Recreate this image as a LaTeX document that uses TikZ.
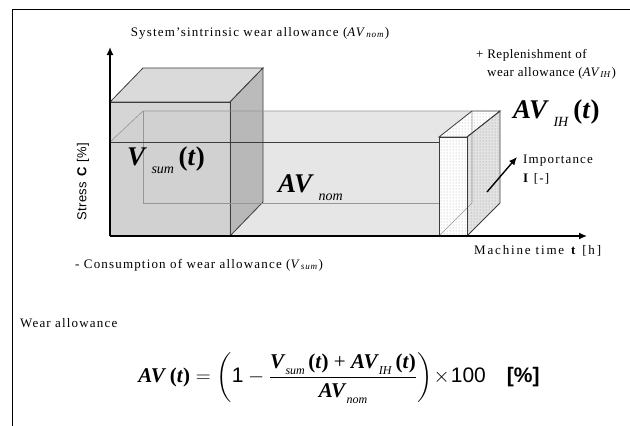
\documentclass[tikz,border=0pt]{standalone}
\usepackage{fontspec}
\setmainfont{Liberation Serif}
\setsansfont{Liberation Sans}
\usepackage{amsmath}
\usetikzlibrary{patterns,arrows.meta}
\definecolor{bigfront}{RGB}{206,206,206}
\definecolor{bigtop}{RGB}{216,216,216}
\definecolor{bigside}{RGB}{180,180,180}
\definecolor{longface}{RGB}{230,230,230}
\definecolor{edgegray}{RGB}{60,60,60}
\definecolor{hidgray}{RGB}{150,150,150}
\newcommand{\bi}[1]{\textbf{\textit{#1}}}
\newcommand{\lowsub}[3]{\raisebox{-#1}{\fontsize{#2}{#2}\selectfont\textit{#3}}}
\tikzset{
  lbl/.style={font=\fontsize{13}{15}\selectfont\addfontfeature{LetterSpace=9}, inner sep=0pt},
  lbltight/.style={font=\fontsize{13}{15}\selectfont\addfontfeature{LetterSpace=4}, inner sep=0pt},
  lblwide/.style={font=\fontsize{13}{15}\selectfont\addfontfeature{LetterSpace=14}, inner sep=0pt},
  bigtxt/.style={font=\fontsize{27}{30}\selectfont, inner sep=0pt},
  axisarrow/.style={line width=1.4pt, -{Latex[length=8pt,width=7pt]}},
  boxedge/.style={draw=edgegray, line width=0.8pt},
  hidden/.style={draw=hidgray, line width=0.6pt},
  frameline/.style={line width=0.9pt},
}
\begin{document}
\begin{tikzpicture}[x=1pt,y=-1pt]
\useasboundingbox (0,0) rectangle (630,426);
% frame
\coordinate (fb) at (12,426);
\coordinate (fc) at (12,9);
\coordinate (fr) at (630,9);
\draw[frameline] (fb) -- (fc) -- (fr);

% long box (AV_nom)
\coordinate (L1) at (110,142); \coordinate (L2) at (440,142);
\coordinate (L3) at (440,236); \coordinate (L4) at (110,236);
\coordinate (L5) at (143,111); \coordinate (L6) at (472,111);
\coordinate (L7) at (143,203); \coordinate (L8) at (472,203);
\fill[longface] (L1) -- (L5) -- (L6) -- (L2) -- cycle;
\fill[longface] (L1) rectangle (L3);

% big box (V_sum)
\coordinate (B1) at (110,102); \coordinate (B2) at (230,102);
\coordinate (B3) at (230,236); \coordinate (B4) at (110,236);
\coordinate (B5) at (143,68);  \coordinate (B6) at (263,68);
\coordinate (B7) at (263,202);
\filldraw[boxedge, fill=bigtop, fill opacity=0.95] (B1) -- (B5) -- (B6) -- (B2) -- cycle;
\filldraw[boxedge, fill=bigside, fill opacity=0.9] (B2) -- (B6) -- (B7) -- (B3) -- cycle;
\filldraw[boxedge, fill=bigfront, fill opacity=0.85] (B1) rectangle (B3);

% long box edges seen through
\draw[hidden] (L1) -- (L5) -- (L6);
\draw[hidden] (L5) -- (L7) -- (L8);
\draw[boxedge] (L1) -- (L2);
\draw[boxedge] (L4) -- (L3);

% IH box
\coordinate (H1) at (439,137); \coordinate (H2) at (467,137);
\coordinate (H3) at (467,236); \coordinate (H4) at (439,236);
\coordinate (H5) at (472,111); \coordinate (H6) at (500,111);
\coordinate (H7) at (500,203); \coordinate (H8) at (472,203);
\fill[white] (H1) -- (H5) -- (H6) -- (H2) -- cycle;
\fill[pattern=dots, pattern color=gray!70] (H1) -- (H5) -- (H6) -- (H2) -- cycle;
\fill[gray!22] (H2) -- (H6) -- (H7) -- (H3) -- cycle;
\fill[pattern=dots, pattern color=gray!80] (H2) -- (H6) -- (H7) -- (H3) -- cycle;
\fill[white] (H1) rectangle (H3);
\fill[pattern=dots, pattern color=gray!70] (H1) rectangle (H3);
\draw[hidden] (H5) -- (H8) -- (H4);
\draw[boxedge] (H1) -- (H5) -- (H6) -- (H2) -- cycle;
\draw[boxedge] (H2) -- (H6) -- (H7) -- (H3);
\draw[boxedge] (H1) rectangle (H3);

% axes
\coordinate (O) at (110,236);
\coordinate (ytip) at (110,47);
\coordinate (xtip) at (587,236);
\coordinate (istart) at (487,192);
\coordinate (itip) at (517,157);
\draw[axisarrow] (O) -- (ytip);
\draw[axisarrow] (O) -- (xtip);
\draw[axisarrow] (istart) -- (itip);

% labels
\node[lbl] (title) at (260,33) {System’sintrinsic wear allowance (\textit{AV}\textsubscript{\textit{nom}})};
\node[lbltight, anchor=west] (rep1) at (476,55) {+ Replenishment of};
\node[lbltight, anchor=west] (rep2) at (487,73) {wear allowance (\textit{AV}\textsubscript{\textit{IH}})};
\node[bigtxt, anchor=base west] (avih) at (513,118) {\bi{AV}\,\lowsub{8pt}{14}{IH}\,\textbf{(}\bi{t}\textbf{)}};
\node[bigtxt, anchor=base west] (vsum) at (127,165) {\bi{V}\,\lowsub{8pt}{14}{sum}\,\textbf{(}\bi{t}\textbf{)}};
\node[bigtxt, anchor=base west] (avnom) at (278,192) {\bi{AV}\,\lowsub{8pt}{14}{nom}};
\node[lbl, anchor=west] (imp1) at (523,161) {Importance};
\node[lbl, anchor=west] (imp2) at (523,179) {\textbf{I} [-]};
\node[font=\sffamily\fontsize{13}{15}\selectfont\addfontfeature{LetterSpace=4}, inner sep=0pt, rotate=90] (stress) at (83,182) {Stress \textbf{C} [\%]};
\node[lblwide, anchor=west] (mtime) at (474,251) {Machine time \textbf{t} [h]};
\node[lbl, anchor=west] (cons) at (75,265) {- Consumption of wear allowance (\textit{V}\textsubscript{\textit{sum}})};
\node[lbl, anchor=west] (wear) at (20,323) {Wear allowance};

% formula
\node[inner sep=0pt, font=\fontsize{21}{25}\selectfont] (formula) at (339,378)
 {$\mbox{\bi{AV}\,\textbf{(}\bi{t}\textbf{)}} = \left(\mbox{\sffamily 1} - \dfrac{\mbox{\bi{V}\lowsub{6pt}{12}{sum}\,\textbf{(}\bi{t}\textbf{)} + \bi{AV}\lowsub{6pt}{12}{IH}\,\textbf{(}\bi{t}\textbf{)}}}{\mbox{\bi{AV}\lowsub{6pt}{12}{nom}}}\right)\!\times\!\mbox{\sffamily 100}\quad\mbox{\sffamily\bfseries [\%]}$};
\end{tikzpicture}
\end{document}
